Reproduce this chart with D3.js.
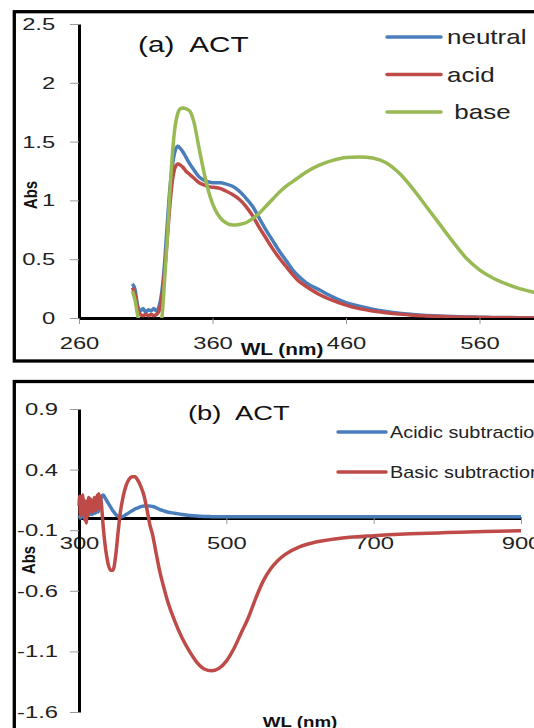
<!DOCTYPE html>
<html>
<head>
<meta charset="utf-8">
<script src="https://cdn.jsdelivr.net/npm/d3@7"></script>
<style>
  body { margin: 0; background: #fff; }
  svg { display: block; font-family: "Liberation Sans", Arial, sans-serif; }
  text { white-space: pre; }
</style>
</head>
<body>
<div id="chart"></div>
<script>
// panel (a): absorbance spectra of ACT
const wlA = [300, 302, 304, 306, 308, 310, 312, 314, 316, 318, 320, 322, 324, 326, 328, 330, 332, 334, 336, 338,
    340, 343, 346, 350, 354, 358, 362, 366, 370, 375, 380, 385, 390, 395, 400, 405, 410, 415, 420, 425,
    430, 440, 450, 460, 470, 480, 490, 500, 510, 520, 530, 540, 550, 560, 570, 580, 590, 600, 620, 640, 660];
const neutral = [0.29, 0.24, 0.10, 0.06, 0.08, 0.05, 0.07, 0.06, 0.08, 0.06, 0.10, 0.22, 0.45, 0.78, 1.09, 1.30, 1.42, 1.46, 1.44, 1.41,
    1.37, 1.31, 1.26, 1.20, 1.17, 1.155, 1.15, 1.15, 1.14, 1.12, 1.08, 1.02, 0.95, 0.85, 0.75, 0.66, 0.57, 0.49, 0.41, 0.35,
    0.30, 0.24, 0.18, 0.13, 0.10, 0.075, 0.055, 0.04, 0.03, 0.022, 0.016, 0.012, 0.009, 0.007, 0.005, 0.004, 0.003, 0.003, 0.002, 0.002, 0.002];
const acid = [0.26, 0.20, 0.08, 0.03, 0.02, 0.03, 0.02, 0.03, 0.02, 0.03, 0.06, 0.18, 0.38, 0.66, 0.95, 1.17, 1.28, 1.31, 1.30, 1.28,
    1.25, 1.22, 1.19, 1.15, 1.13, 1.115, 1.11, 1.10, 1.08, 1.05, 1.01, 0.95, 0.87, 0.77, 0.68, 0.59, 0.51, 0.44, 0.37, 0.31,
    0.27, 0.20, 0.15, 0.11, 0.08, 0.06, 0.045, 0.033, 0.024, 0.018, 0.013, 0.009, 0.006, 0.004, 0.003, 0.002, 0.001, 0.001, 0, 0, 0];
const base = [0.23, 0.15, 0.02, -0.05, -0.05, -0.05, -0.05, -0.05, -0.05, -0.05, -0.05, 0.0, 0.30, 0.65, 1.05, 1.40, 1.63, 1.74, 1.78, 1.785,
    1.78, 1.76, 1.67, 1.44, 1.22, 1.04, 0.92, 0.85, 0.81, 0.79, 0.795, 0.81, 0.845, 0.89, 0.95, 1.01, 1.07, 1.12, 1.16, 1.20,
    1.24, 1.30, 1.34, 1.365, 1.37, 1.36, 1.32, 1.23, 1.10, 0.95, 0.80, 0.65, 0.51, 0.41, 0.34, 0.29, 0.25, 0.22, 0.17, 0.13, 0.10];
const namesA = ["neutral", "acid", " base"];
const xTicksA = [260, 360, 460, 560];
const yTicksA = [0, 0.5, 1, 1.5, 2, 2.5];

// panel (b): subtraction spectra
const wlB = [300, 301, 302, 303, 304, 305, 306, 307, 308, 309, 310, 311, 312, 313, 314, 315, 316, 317, 318, 319,
    320, 321, 322, 323, 324, 325, 326, 327, 328, 329, 330, 333, 336, 338, 340, 343, 346, 350, 353, 356,
    360, 364, 368, 372, 376, 380, 384, 388, 392, 396, 400, 405, 410, 415, 420, 430, 440, 450, 460, 470,
    480, 490, 500, 510, 520, 530, 540, 550, 560, 570, 580, 600, 620, 650, 700, 750, 800, 850, 900];
const acidicSub = [0.00, 0.01, 0.00, 0.02, 0.01, 0.02, 0.01, 0.03, 0.02, 0.03, 0.02, 0.03, 0.02, 0.03, 0.03, 0.04, 0.03, 0.04, 0.03, 0.04,
    0.04, 0.05, 0.04, 0.05, 0.05, 0.06, 0.05, 0.07, 0.10, 0.14, 0.17, 0.19, 0.16, 0.14, 0.12, 0.09, 0.06, 0.03, 0.015, 0.01,
    0.015, 0.03, 0.045, 0.06, 0.075, 0.085, 0.095, 0.10, 0.10, 0.10, 0.095, 0.085, 0.07, 0.06, 0.05, 0.04, 0.03, 0.022, 0.017, 0.014,
    0.012, 0.011, 0.01, 0.01, 0.01, 0.01, 0.01, 0.01, 0.01, 0.01, 0.01, 0.01, 0.01, 0.01, 0.01, 0.01, 0.01, 0.01, 0.01];
const basicSub = [0.10, 0.18, 0.02, 0.16, 0.04, 0.19, 0.03, 0.15, -0.02, 0.12, -0.04, 0.14, 0.02, 0.17, 0.05, 0.16, 0.06, 0.15, 0.05, 0.14,
    0.08, 0.17, 0.06, 0.15, 0.09, 0.19, 0.08, 0.20, 0.12, 0.18, 0.14, -0.08, -0.25, -0.33, -0.39, -0.43, -0.43, -0.30, -0.12, 0.04,
    0.18, 0.27, 0.32, 0.34, 0.34, 0.31, 0.26, 0.19, 0.08, -0.05, -0.14, -0.30, -0.45, -0.57, -0.68, -0.85, -0.99, -1.10, -1.19, -1.245,
    -1.26, -1.24, -1.18, -1.08, -0.95, -0.82, -0.66, -0.52, -0.42, -0.35, -0.30, -0.235, -0.20, -0.17, -0.145, -0.13, -0.12, -0.11, -0.105];
const namesB = ["Acidic subtraction", "Basic subtraction"];
const xTicksB = [300, 500, 700, 900];
const yTicksB = [0.9, 0.4, -0.1, -0.6, -1.1, -1.6];

const BLUE = "#4a7ebb", RED = "#be4b48", GREEN = "#98b954";

const width = 534, height = 728;
const svg = d3.select("#chart").append("svg")
    .attr("width", width)
    .attr("height", height);

// the reference picture is stretched sideways, so text is too
function stretch(sel, sx) {
    sel.each(function () {
        const t = d3.select(this);
        const x = +t.attr("x") || 0, y = +t.attr("y") || 0;
        t.attr("x", null).attr("y", null)
            .attr("transform", `translate(${x},${y}) scale(${sx},1)`);
    });
}

function styleAxis(g, sx) {
    g.select(".domain").attr("stroke", "#000").attr("stroke-width", 3);
    g.selectAll(".tick line").attr("stroke", "#999").attr("stroke-width", 1);
    g.selectAll(".tick text")
        .attr("fill", "#222")
        .attr("font-size", 17)
        .attr("font-family", "Liberation Sans, Arial, sans-serif")
        .attr("transform", `scale(${sx},1)`);
}

// frames
svg.append("rect").attr("x", 14.3).attr("y", 11.7).attr("width", 700).attr("height", 349.3)
    .attr("fill", "none").attr("stroke", "#000").attr("stroke-width", 3.3);
svg.append("rect").attr("x", 14.3).attr("y", 381.5).attr("width", 700).attr("height", 500)
    .attr("fill", "none").attr("stroke", "#000").attr("stroke-width", 3.3);

// ---------- panel (a)
const xA = d3.scaleLinear().domain([260, 660]).range([79, 613]);
const yA = d3.scaleLinear().domain([0, 2.5]).range([318, 24]);

svg.append("defs").append("clipPath").attr("id", "clipA")
    .append("rect").attr("x", 79).attr("y", 0).attr("width", 700).attr("height", yA(0));

const gxA = svg.append("g").attr("transform", `translate(0,${yA(0)})`)
    .call(d3.axisBottom(xA).tickValues(xTicksA).tickSize(6).tickSizeOuter(0).tickPadding(13).tickFormat(d => d));
styleAxis(gxA, 1.4);
const gyA = svg.append("g").attr("transform", `translate(${xA(260)},0)`)
    .call(d3.axisLeft(yA).tickValues(yTicksA).tickSize(9).tickSizeOuter(0).tickPadding(8).tickFormat(d => d));
styleAxis(gyA, 1.4);

const seriesA = [neutral, acid, base];
const colorsA = [BLUE, RED, GREEN];
const lineA = d3.line().x((d, i) => xA(wlA[i])).y(d => yA(d)).curve(d3.curveMonotoneX);
svg.append("g").attr("clip-path", "url(#clipA)")
    .selectAll("path")
    .data(seriesA)
    .join("path")
    .attr("d", d => lineA(d))
    .attr("fill", "none")
    .attr("stroke", (d, i) => colorsA[i])
    .attr("stroke-width", 3.5)
    .attr("stroke-linejoin", "round");

// legend (a)
const legA = svg.append("g");
namesA.forEach((n, i) => {
    const y = 37 + i * 37.5;
    legA.append("line").attr("x1", 387).attr("x2", 441).attr("y1", y).attr("y2", y)
        .attr("stroke", colorsA[i]).attr("stroke-width", 3.5).attr("stroke-linecap", "round");
    legA.append("text").attr("x", 447).attr("y", y + 7).text(n)
        .attr("font-size", 20).attr("fill", "#222");
});
stretch(legA.selectAll("text"), 1.3);

const titleA = svg.append("text").attr("x", 138).attr("y", 52).text("(a)  ACT")
    .attr("font-size", 22).attr("fill", "#111");
stretch(titleA, 1.35);

const wlLabA = svg.append("text").attr("x", 282).attr("y", 355).text("WL (nm)")
    .attr("font-size", 16).attr("font-weight", "bold").attr("text-anchor", "middle").attr("fill", "#111");
stretch(wlLabA, 1.3);

svg.append("text").text("Abs")
    .attr("transform", "translate(37,195) scale(1.25,1) rotate(-90)")
    .attr("font-size", 15).attr("font-weight", "bold").attr("text-anchor", "middle").attr("fill", "#111");

// ---------- panel (b)
const xB = d3.scaleLinear().domain([300, 900]).range([79, 521]);
const yB = d3.scaleLinear().domain([-1.6, 0.9]).range([712, 409]);

const gxB = svg.append("g").attr("transform", `translate(0,${yB(0)})`)
    .call(d3.axisBottom(xB).tickValues(xTicksB).tickSize(6).tickSizeOuter(0).tickPadding(13).tickFormat(d => d));
styleAxis(gxB, 1.4);
const gyB = svg.append("g").attr("transform", `translate(${xB(300)},0)`)
    .call(d3.axisLeft(yB).tickValues(yTicksB).tickSize(9).tickSizeOuter(0).tickPadding(6).tickFormat(d => String(d)));
styleAxis(gyB, 1.4);

const seriesB = [acidicSub, basicSub];
const colorsB = [BLUE, RED];
const lineB = d3.line().x((d, i) => xB(wlB[i])).y(d => yB(d)).curve(d3.curveMonotoneX);
svg.append("g")
    .selectAll("path")
    .data(seriesB)
    .join("path")
    .attr("d", d => lineB(d))
    .attr("fill", "none")
    .attr("stroke", (d, i) => colorsB[i])
    .attr("stroke-width", 3.5)
    .attr("stroke-linejoin", "round");

const legB = svg.append("g");
namesB.forEach((n, i) => {
    const y = 432 + i * 40;
    legB.append("line").attr("x1", 338).attr("x2", 386).attr("y1", y).attr("y2", y)
        .attr("stroke", colorsB[i]).attr("stroke-width", 3.5).attr("stroke-linecap", "round");
    legB.append("text").attr("x", 390).attr("y", y + 5.5).text(n)
        .attr("font-size", 16).attr("fill", "#222");
});
stretch(legB.selectAll("text"), 1.24);

const titleB = svg.append("text").attr("x", 188).attr("y", 420).text("(b)  ACT")
    .attr("font-size", 21).attr("fill", "#111");
stretch(titleB, 1.3);

const wlLabB = svg.append("text").attr("x", 300).attr("y", 727).text("WL (nm)")
    .attr("font-size", 15).attr("font-weight", "bold").attr("text-anchor", "middle").attr("fill", "#111");
stretch(wlLabB, 1.25);

svg.append("text").text("Abs")
    .attr("transform", "translate(35,560) scale(1.25,1) rotate(-90)")
    .attr("font-size", 15).attr("font-weight", "bold").attr("text-anchor", "middle").attr("fill", "#111");
</script>
</body>
</html>
